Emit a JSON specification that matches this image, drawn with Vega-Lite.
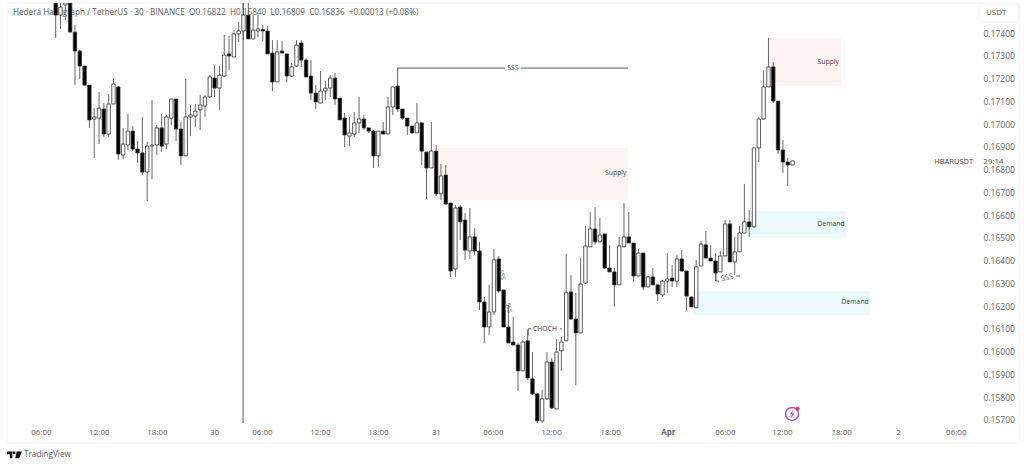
{"$schema":"https://vega.github.io/schema/vega-lite/v6.json","width":971,"height":420,"autosize":"none","padding":{"left":7,"top":3,"right":46,"bottom":45},"background":"white","config":{"view":{"stroke":null},"text":{"font":"Open Sans"}},
"datasets":{
"zones":[{"kind":"Supply","bar":79.17,"bar2":118.84,"price":0.16895,"price2":0.16666},{"kind":"Supply","bar":147.9,"bar2":163.06,"price":0.17378,"price2":0.17167},{"kind":"Demand","bar":144.2,"bar2":164.1,"price":0.16618,"price2":0.16499},{"kind":"Demand","bar":132.3,"bar2":169.1,"price":0.16266,"price2":0.16161}],
"frames":[{"bar":-10.11,"bar2":200.2,"price":0.17532,"price2":0.15598},{"bar":191.7,"bar2":199.9,"price":0.17523,"price2":0.17448}],
"lines":[{"bar":38.9,"bar2":38.9,"price":0.17532,"price2":0.15686},{"bar":70.87,"bar2":93.3,"price":0.17246,"price2":0.17246},{"bar":96.6,"bar2":118.84,"price":0.17246,"price2":0.17246},{"bar":98.1,"bar2":98.7,"price":0.161,"price2":0.161},{"bar":98.1,"bar2":98.1,"price":0.161,"price2":0.1607},{"bar":104.7,"bar2":105.1,"price":0.161,"price2":0.161},{"bar":137.1,"bar2":137.1,"price":0.16345,"price2":0.1631},{"bar":137.1,"bar2":137.7,"price":0.1631,"price2":0.1631},{"bar":141.3,"bar2":142.1,"price":0.16332,"price2":0.16332}],
"texts":[{"bar":116.3,"price":0.16785,"label":"Supply"},{"bar":160.4,"price":0.17273,"label":"Supply"},{"bar":161,"price":0.16561,"label":"Demand"},{"bar":166,"price":0.16218,"label":"Demand"},{"bar":94.95,"price":0.17246,"label":"SSS"},{"bar":101.6,"price":0.161,"label":"CHOCH"}],
"tilted":[{"bar":139.4,"price":0.16323,"label":"SSS"}],
"steep":[{"bar":92.7,"price":0.16337,"label":"SSS"},{"bar":94.1,"price":0.16192,"label":"SSS"}],
"header":[{"bar":-8.87,"price":0.17488,"label":"Hedera Hashgraph / TetherUS · 30 · BINANCE \u00a0O0.16822 \u00a0H0.16840 \u00a0L0.16809 \u00a0C0.16836 \u00a0+0.00013 (+0.08%)"},{"bar":-6.58,"price":0.15546,"label":"TradingView"}],
"rightleft":[{"bar":190.5,"price":0.16833,"label":"HBARUSDT"}],
"rightstart":[{"bar":192.6,"price":0.16833,"label":"29:14"}],
"unit":[{"bar":195.3,"price":0.17488,"label":"USDT"}],
"logo":[{"bar":-8.56,"price":0.15546}],
"icon":[{"bar":152.9,"price":0.15726}],
"dot":[{"bar":154.05,"price":0.15749}],
"candles":[
{"bar":0,"o":0.17532,"h":0.17567,"l":0.17378,"c":0.17479},{"bar":1,"o":0.17479,"h":0.17532,"l":0.17418,"c":0.17514},{"bar":2,"o":0.17523,"h":0.17536,"l":0.17457,"c":0.17532},{"bar":3,"o":0.17532,"h":0.17567,"l":0.17404,"c":0.17404},{"bar":4,"o":0.17404,"h":0.17435,"l":0.17171,"c":0.17321},{"bar":5,"o":0.17321,"h":0.17325,"l":0.17198,"c":0.17255},{"bar":6,"o":0.17255,"h":0.17255,"l":0.17171,"c":0.17171},{"bar":7,"o":0.17171,"h":0.17171,"l":0.16983,"c":0.17018},{"bar":8,"o":0.17022,"h":0.1707,"l":0.16851,"c":0.17031},{"bar":9,"o":0.17026,"h":0.17141,"l":0.16912,"c":0.1707},
{"bar":10,"o":0.17066,"h":0.17092,"l":0.16943,"c":0.16956},{"bar":11,"o":0.16956,"h":0.17132,"l":0.16943,"c":0.17088},{"bar":12,"o":0.17088,"h":0.17202,"l":0.17088,"c":0.17176},{"bar":13,"o":0.17163,"h":0.17167,"l":0.16842,"c":0.16868},{"bar":14,"o":0.16864,"h":0.16983,"l":0.16846,"c":0.16912},{"bar":15,"o":0.16908,"h":0.17044,"l":0.16886,"c":0.16969},{"bar":16,"o":0.16969,"h":0.16991,"l":0.16881,"c":0.1689},{"bar":17,"o":0.1689,"h":0.16925,"l":0.16829,"c":0.16873},{"bar":18,"o":0.16873,"h":0.17031,"l":0.16776,"c":0.16789},{"bar":19,"o":0.16789,"h":0.16921,"l":0.16662,"c":0.16903},
{"bar":20,"o":0.16903,"h":0.17106,"l":0.16758,"c":0.16908},{"bar":21,"o":0.16908,"h":0.16996,"l":0.16864,"c":0.16983},{"bar":22,"o":0.16983,"h":0.17044,"l":0.16877,"c":0.16903},{"bar":23,"o":0.16912,"h":0.1704,"l":0.1689,"c":0.17031},{"bar":24,"o":0.17026,"h":0.1711,"l":0.16996,"c":0.1711},{"bar":25,"o":0.1711,"h":0.1711,"l":0.16925,"c":0.16978},{"bar":26,"o":0.16978,"h":0.17009,"l":0.1682,"c":0.1686},{"bar":27,"o":0.1686,"h":0.17198,"l":0.1686,"c":0.17031},{"bar":28,"o":0.17031,"h":0.17084,"l":0.16947,"c":0.1704},{"bar":29,"o":0.17035,"h":0.17088,"l":0.16987,"c":0.17057},
{"bar":30,"o":0.17062,"h":0.17128,"l":0.16974,"c":0.17084},{"bar":31,"o":0.17079,"h":0.17128,"l":0.17031,"c":0.17119},{"bar":32,"o":0.17119,"h":0.17215,"l":0.17114,"c":0.17207},{"bar":33,"o":0.17202,"h":0.17259,"l":0.17119,"c":0.17158},{"bar":34,"o":0.17158,"h":0.17255,"l":0.17062,"c":0.17215},{"bar":35,"o":0.17211,"h":0.17391,"l":0.17207,"c":0.17303},{"bar":36,"o":0.17308,"h":0.17387,"l":0.17237,"c":0.17299},{"bar":37,"o":0.17295,"h":0.17413,"l":0.17295,"c":0.17396},{"bar":38,"o":0.17396,"h":0.17448,"l":0.1736,"c":0.17409},{"bar":39,"o":0.17409,"h":0.17567,"l":0.17369,"c":0.17479},
{"bar":40,"o":0.17479,"h":0.17536,"l":0.17374,"c":0.17374},{"bar":41,"o":0.17374,"h":0.17479,"l":0.17374,"c":0.17413},{"bar":42,"o":0.17409,"h":0.17483,"l":0.17382,"c":0.17418},{"bar":43,"o":0.17415,"h":0.17435,"l":0.17365,"c":0.17409},{"bar":44,"o":0.17409,"h":0.17431,"l":0.17308,"c":0.17308},{"bar":45,"o":0.17312,"h":0.17369,"l":0.17145,"c":0.17185},{"bar":46,"o":0.17185,"h":0.17369,"l":0.17185,"c":0.17317},{"bar":47,"o":0.17321,"h":0.17365,"l":0.17312,"c":0.17312},{"bar":48,"o":0.17308,"h":0.17308,"l":0.17185,"c":0.17211},{"bar":49,"o":0.17211,"h":0.17268,"l":0.17207,"c":0.17251},
{"bar":50,"o":0.17255,"h":0.17369,"l":0.17251,"c":0.17347},{"bar":51,"o":0.17356,"h":0.17369,"l":0.17251,"c":0.17281},{"bar":52,"o":0.17281,"h":0.1729,"l":0.17207,"c":0.17207},{"bar":53,"o":0.17211,"h":0.17281,"l":0.17106,"c":0.17136},{"bar":54,"o":0.17136,"h":0.17171,"l":0.17066,"c":0.17097},{"bar":55,"o":0.17092,"h":0.17233,"l":0.17092,"c":0.17145},{"bar":56,"o":0.17145,"h":0.17189,"l":0.17106,"c":0.17158},{"bar":57,"o":0.17158,"h":0.17215,"l":0.17119,"c":0.17202},{"bar":58,"o":0.17202,"h":0.17224,"l":0.17084,"c":0.1711},{"bar":59,"o":0.17114,"h":0.17114,"l":0.17018,"c":0.17018},
{"bar":60,"o":0.17026,"h":0.17048,"l":0.16899,"c":0.16952},{"bar":61,"o":0.16947,"h":0.17031,"l":0.16903,"c":0.16961},{"bar":62,"o":0.16956,"h":0.17053,"l":0.16943,"c":0.17005},{"bar":63,"o":0.17005,"h":0.17119,"l":0.16961,"c":0.17022},{"bar":64,"o":0.17022,"h":0.1704,"l":0.16974,"c":0.16983},{"bar":65,"o":0.16983,"h":0.16983,"l":0.16961,"c":0.16969},{"bar":66,"o":0.16969,"h":0.16974,"l":0.16807,"c":0.1686},{"bar":67,"o":0.1686,"h":0.16969,"l":0.16811,"c":0.16969},{"bar":68,"o":0.16969,"h":0.17009,"l":0.16956,"c":0.16956},{"bar":69,"o":0.16956,"h":0.17119,"l":0.16956,"c":0.17075},
{"bar":70,"o":0.17075,"h":0.17163,"l":0.1704,"c":0.17163},{"bar":71,"o":0.17167,"h":0.17246,"l":0.17053,"c":0.17066},{"bar":72,"o":0.17066,"h":0.17066,"l":0.17018,"c":0.17026},{"bar":73,"o":0.17026,"h":0.17026,"l":0.16952,"c":0.16991},{"bar":74,"o":0.16991,"h":0.16991,"l":0.16956,"c":0.16961},{"bar":75,"o":0.16961,"h":0.17092,"l":0.16961,"c":0.17005},{"bar":76,"o":0.17005,"h":0.17005,"l":0.1682,"c":0.16881},{"bar":77,"o":0.16877,"h":0.16877,"l":0.16671,"c":0.16807},{"bar":78,"o":0.16807,"h":0.17009,"l":0.16807,"c":0.16881},{"bar":79,"o":0.16881,"h":0.16908,"l":0.16684,"c":0.16693},
{"bar":80,"o":0.16693,"h":0.16824,"l":0.16666,"c":0.16772},{"bar":81,"o":0.16776,"h":0.1682,"l":0.16644,"c":0.16649},{"bar":82,"o":0.16653,"h":0.16653,"l":0.16328,"c":0.16354},{"bar":83,"o":0.16363,"h":0.16644,"l":0.16328,"c":0.16631},{"bar":84,"o":0.16635,"h":0.16644,"l":0.1649,"c":0.1657},{"bar":85,"o":0.16578,"h":0.16609,"l":0.16403,"c":0.16446},{"bar":86,"o":0.16442,"h":0.16631,"l":0.16407,"c":0.16504},{"bar":87,"o":0.16504,"h":0.16543,"l":0.16425,"c":0.16442},{"bar":88,"o":0.16442,"h":0.16482,"l":0.16183,"c":0.16218},{"bar":89,"o":0.16218,"h":0.1624,"l":0.16038,"c":0.16108},
{"bar":90,"o":0.16108,"h":0.16293,"l":0.16073,"c":0.16174},{"bar":91,"o":0.16174,"h":0.16451,"l":0.16161,"c":0.16403},{"bar":92,"o":0.16407,"h":0.1642,"l":0.16258,"c":0.16266},{"bar":93,"o":0.16271,"h":0.16271,"l":0.16108,"c":0.16108},{"bar":94,"o":0.16108,"h":0.16205,"l":0.16038,"c":0.16038},{"bar":95,"o":0.16042,"h":0.16152,"l":0.16029,"c":0.16029},{"bar":96,"o":0.16029,"h":0.16038,"l":0.15827,"c":0.15915},{"bar":97,"o":0.15915,"h":0.16051,"l":0.15915,"c":0.16042},{"bar":98,"o":0.16047,"h":0.16095,"l":0.15875,"c":0.15884},{"bar":99,"o":0.1588,"h":0.15998,"l":0.15809,"c":0.15814},
{"bar":100,"o":0.15814,"h":0.15818,"l":0.15686,"c":0.15695},{"bar":101,"o":0.15695,"h":0.15831,"l":0.15686,"c":0.15792},{"bar":102,"o":0.15792,"h":0.15998,"l":0.15787,"c":0.15954},{"bar":103,"o":0.15954,"h":0.15972,"l":0.15748,"c":0.15752},{"bar":104,"o":0.15748,"h":0.16055,"l":0.15748,"c":0.15998},{"bar":105,"o":0.16003,"h":0.16064,"l":0.15915,"c":0.16042},{"bar":106,"o":0.16047,"h":0.16429,"l":0.16047,"c":0.16258},{"bar":107,"o":0.16262,"h":0.16337,"l":0.16139,"c":0.16143},{"bar":108,"o":0.16143,"h":0.16258,"l":0.15853,"c":0.16082},{"bar":109,"o":0.16082,"h":0.16411,"l":0.16082,"c":0.16297},
{"bar":110,"o":0.16301,"h":0.16552,"l":0.16297,"c":0.16464},{"bar":111,"o":0.1646,"h":0.16613,"l":0.1646,"c":0.16539},{"bar":112,"o":0.16539,"h":0.16635,"l":0.16469,"c":0.16482},{"bar":113,"o":0.16482,"h":0.16587,"l":0.16482,"c":0.16512},{"bar":114,"o":0.16517,"h":0.16517,"l":0.16367,"c":0.16367},{"bar":115,"o":0.16367,"h":0.16469,"l":0.1635,"c":0.1635},{"bar":116,"o":0.1635,"h":0.16367,"l":0.16196,"c":0.16293},{"bar":117,"o":0.16293,"h":0.16504,"l":0.16293,"c":0.16464},{"bar":118,"o":0.1646,"h":0.16653,"l":0.1646,"c":0.16504},{"bar":119,"o":0.16504,"h":0.16613,"l":0.16477,"c":0.16477},
{"bar":120,"o":0.16477,"h":0.16477,"l":0.16306,"c":0.16332},{"bar":121,"o":0.16332,"h":0.16451,"l":0.16332,"c":0.16433},{"bar":122,"o":0.16433,"h":0.16433,"l":0.16271,"c":0.16284},{"bar":123,"o":0.16284,"h":0.16332,"l":0.16284,"c":0.16328},{"bar":124,"o":0.16328,"h":0.16367,"l":0.16293,"c":0.16293},{"bar":125,"o":0.16293,"h":0.16293,"l":0.16222,"c":0.16253},{"bar":126,"o":0.16249,"h":0.16315,"l":0.1624,"c":0.1631},{"bar":127,"o":0.1631,"h":0.16433,"l":0.16258,"c":0.16319},{"bar":128,"o":0.16323,"h":0.16381,"l":0.16284,"c":0.1631},{"bar":129,"o":0.1631,"h":0.16425,"l":0.16284,"c":0.16407},
{"bar":130,"o":0.16407,"h":0.16446,"l":0.16354,"c":0.16354},{"bar":131,"o":0.16354,"h":0.16354,"l":0.16178,"c":0.16244},{"bar":132,"o":0.1624,"h":0.1624,"l":0.16196,"c":0.16196},{"bar":133,"o":0.16192,"h":0.16403,"l":0.16192,"c":0.16372},{"bar":134,"o":0.16376,"h":0.16486,"l":0.16376,"c":0.16473},{"bar":135,"o":0.16469,"h":0.1653,"l":0.16411,"c":0.16411},{"bar":136,"o":0.16411,"h":0.16469,"l":0.16398,"c":0.16398},{"bar":137,"o":0.16398,"h":0.16433,"l":0.1631,"c":0.16345},{"bar":138,"o":0.1635,"h":0.16442,"l":0.1635,"c":0.1642},{"bar":139,"o":0.1642,"h":0.16578,"l":0.1642,"c":0.16561},
{"bar":140,"o":0.16561,"h":0.16578,"l":0.16394,"c":0.16394},{"bar":141,"o":0.16394,"h":0.16504,"l":0.16337,"c":0.16438},{"bar":142,"o":0.16438,"h":0.16552,"l":0.16438,"c":0.16521},{"bar":143,"o":0.16521,"h":0.16737,"l":0.16521,"c":0.1657},{"bar":144,"o":0.1657,"h":0.16622,"l":0.16504,"c":0.16548},{"bar":145,"o":0.16548,"h":0.16895,"l":0.16543,"c":0.16895},{"bar":146,"o":0.16895,"h":0.17031,"l":0.16833,"c":0.17022},{"bar":147,"o":0.17022,"h":0.17237,"l":0.17018,"c":0.17163},{"bar":148,"o":0.17163,"h":0.17378,"l":0.17163,"c":0.17251},{"bar":149,"o":0.17251,"h":0.17273,"l":0.17092,"c":0.17101},
{"bar":150,"o":0.17101,"h":0.17101,"l":0.16868,"c":0.16886},{"bar":151,"o":0.16886,"h":0.1693,"l":0.16785,"c":0.16833},{"bar":152,"o":0.16833,"h":0.16851,"l":0.16728,"c":0.1682},{"bar":153,"o":0.1682,"h":0.16838,"l":0.1682,"c":0.16838}
]},
"encoding":{
"x":{"field":"bar","type":"quantitative","title":null,"scale":{"domain":[-10.11,191.51],"nice":false,"zero":false,"padding":0},"axis":{"orient":"bottom","values":[-3.05,8.99,21.03,32.87,42.82,54.88,66.92,78.97,90.8,102.85,115.1,127.1,138.97,150.8,163.1,174.9,186.9],"labelExpr":"datum.value==32.87?'30':datum.value==78.97?'31':datum.value==127.1?'Apr':datum.value==174.9?'2':(datum.value==-3.05||datum.value==42.82||datum.value==90.8||datum.value==138.97||datum.value==186.9)?'06:00':(datum.value==8.99||datum.value==54.88||datum.value==102.85||datum.value==150.8)?'12:00':'18:00'","domain":false,"ticks":false,"grid":false,"labelFont":"Open Sans","labelFontSize":8,"labelColor":"#666666","labelPadding":5,"labelFlush":false,"labelOverlap":false,"labelFontWeight":{"condition":{"test":"datum.value==127.1","value":"bold"},"value":"normal"}}},
"y":{"field":"price","type":"quantitative","title":null,"scale":{"domain":[0.15686,0.17532],"nice":false,"zero":false},"axis":{"orient":"right","values":[0.157,0.158,0.159,0.16,0.161,0.162,0.163,0.164,0.165,0.166,0.167,0.168,0.169,0.17,0.171,0.172,0.173,0.174],"format":".5f","domain":false,"ticks":false,"grid":false,"labelFont":"Open Sans","labelFontSize":8.5,"labelColor":"#666666","labelPadding":5,"labelFlush":false,"labelOverlap":false}}},
"layer":[
{"data":{"name":"frames"},"mark":{"type":"rect","fill":"transparent","stroke":"#f2f2f2","strokeWidth":1,"cornerRadius":2},"encoding":{"x2":{"field":"bar2"},"y2":{"field":"price2"}}},
{"data":{"name":"zones"},"mark":{"type":"rect"},"encoding":{"x2":{"field":"bar2"},"y2":{"field":"price2"},"color":{"field":"kind","type":"nominal","legend":null,"scale":{"domain":["Supply","Demand"],"range":["#fdf3f0","#ebfafb"]}}}},
{"data":{"name":"header"},"mark":{"type":"text","align":"left","baseline":"middle","fontSize":8.2,"color":"#5a5a5a"},"encoding":{"text":{"field":"label"}}},
{"data":{"name":"lines"},"mark":{"type":"rule","color":"#555555","strokeWidth":1},"encoding":{"x2":{"field":"bar2"},"y2":{"field":"price2"}}},
{"data":{"name":"candles"},"mark":{"type":"rule","color":"#666666","strokeWidth":1,"clip":true},"encoding":{"y":{"field":"l","type":"quantitative","title":null,"scale":{"domain":[0.15686,0.17532],"nice":false,"zero":false}},"y2":{"field":"h"}}},
{"data":{"name":"candles"},"mark":{"type":"bar","size":3.4,"stroke":"#333333","strokeWidth":0.8,"clip":true,"orient":"vertical"},"encoding":{"y":{"field":"o","type":"quantitative","title":null,"scale":{"domain":[0.15686,0.17532],"nice":false,"zero":false}},"y2":{"field":"c"},"fill":{"condition":{"test":"datum.o>datum.c","value":"#000000"},"value":"#ffffff"}}},
{"data":{"name":"texts"},"mark":{"type":"text","baseline":"middle","fontSize":6.8,"color":"#444444"},"encoding":{"text":{"field":"label"}}},
{"data":{"name":"tilted"},"mark":{"type":"text","baseline":"middle","fontSize":8,"angle":346,"color":"#555555"},"encoding":{"text":{"field":"label"}}},
{"data":{"name":"steep"},"mark":{"type":"text","baseline":"middle","fontSize":6,"angle":75,"color":"#555555"},"encoding":{"text":{"field":"label"}}},
{"data":{"name":"rightleft"},"mark":{"type":"text","align":"right","baseline":"middle","fontSize":7.5,"color":"#444444"},"encoding":{"text":{"field":"label"}}},
{"data":{"name":"rightstart"},"mark":{"type":"text","align":"left","baseline":"middle","fontSize":8,"color":"#555555"},"encoding":{"text":{"field":"label"}}},
{"data":{"name":"unit"},"mark":{"type":"text","baseline":"middle","fontSize":8,"color":"#555555"},"encoding":{"text":{"field":"label"}}},
{"data":{"name":"logo"},"mark":{"type":"point","filled":true,"color":"#111111","opacity":1,"size":225,"shape":"M-1,-0.45 H-0.28 V0.45 H-0.62 V-0.08 H-1 Z M-0.22,-0.45 H0.12 V-0.12 H-0.22 Z M0.3,-0.45 H1 L0.62,0.45 H0.1 Z"}},
{"data":{"name":"icon"},"mark":{"type":"point","filled":false,"stroke":"#b44fd1","strokeWidth":1.5,"opacity":1,"size":170,"shape":"circle"}},
{"data":{"name":"icon"},"mark":{"type":"point","filled":true,"color":"#b44fd1","opacity":1,"size":110,"shape":"M0.2,-0.8 L-0.45,0.1 H-0.05 L-0.2,0.8 L0.45,-0.1 H0.05 Z"}},
{"data":{"name":"dot"},"mark":{"type":"point","filled":true,"color":"#f23645","opacity":1,"size":16,"shape":"circle"}}
]}
